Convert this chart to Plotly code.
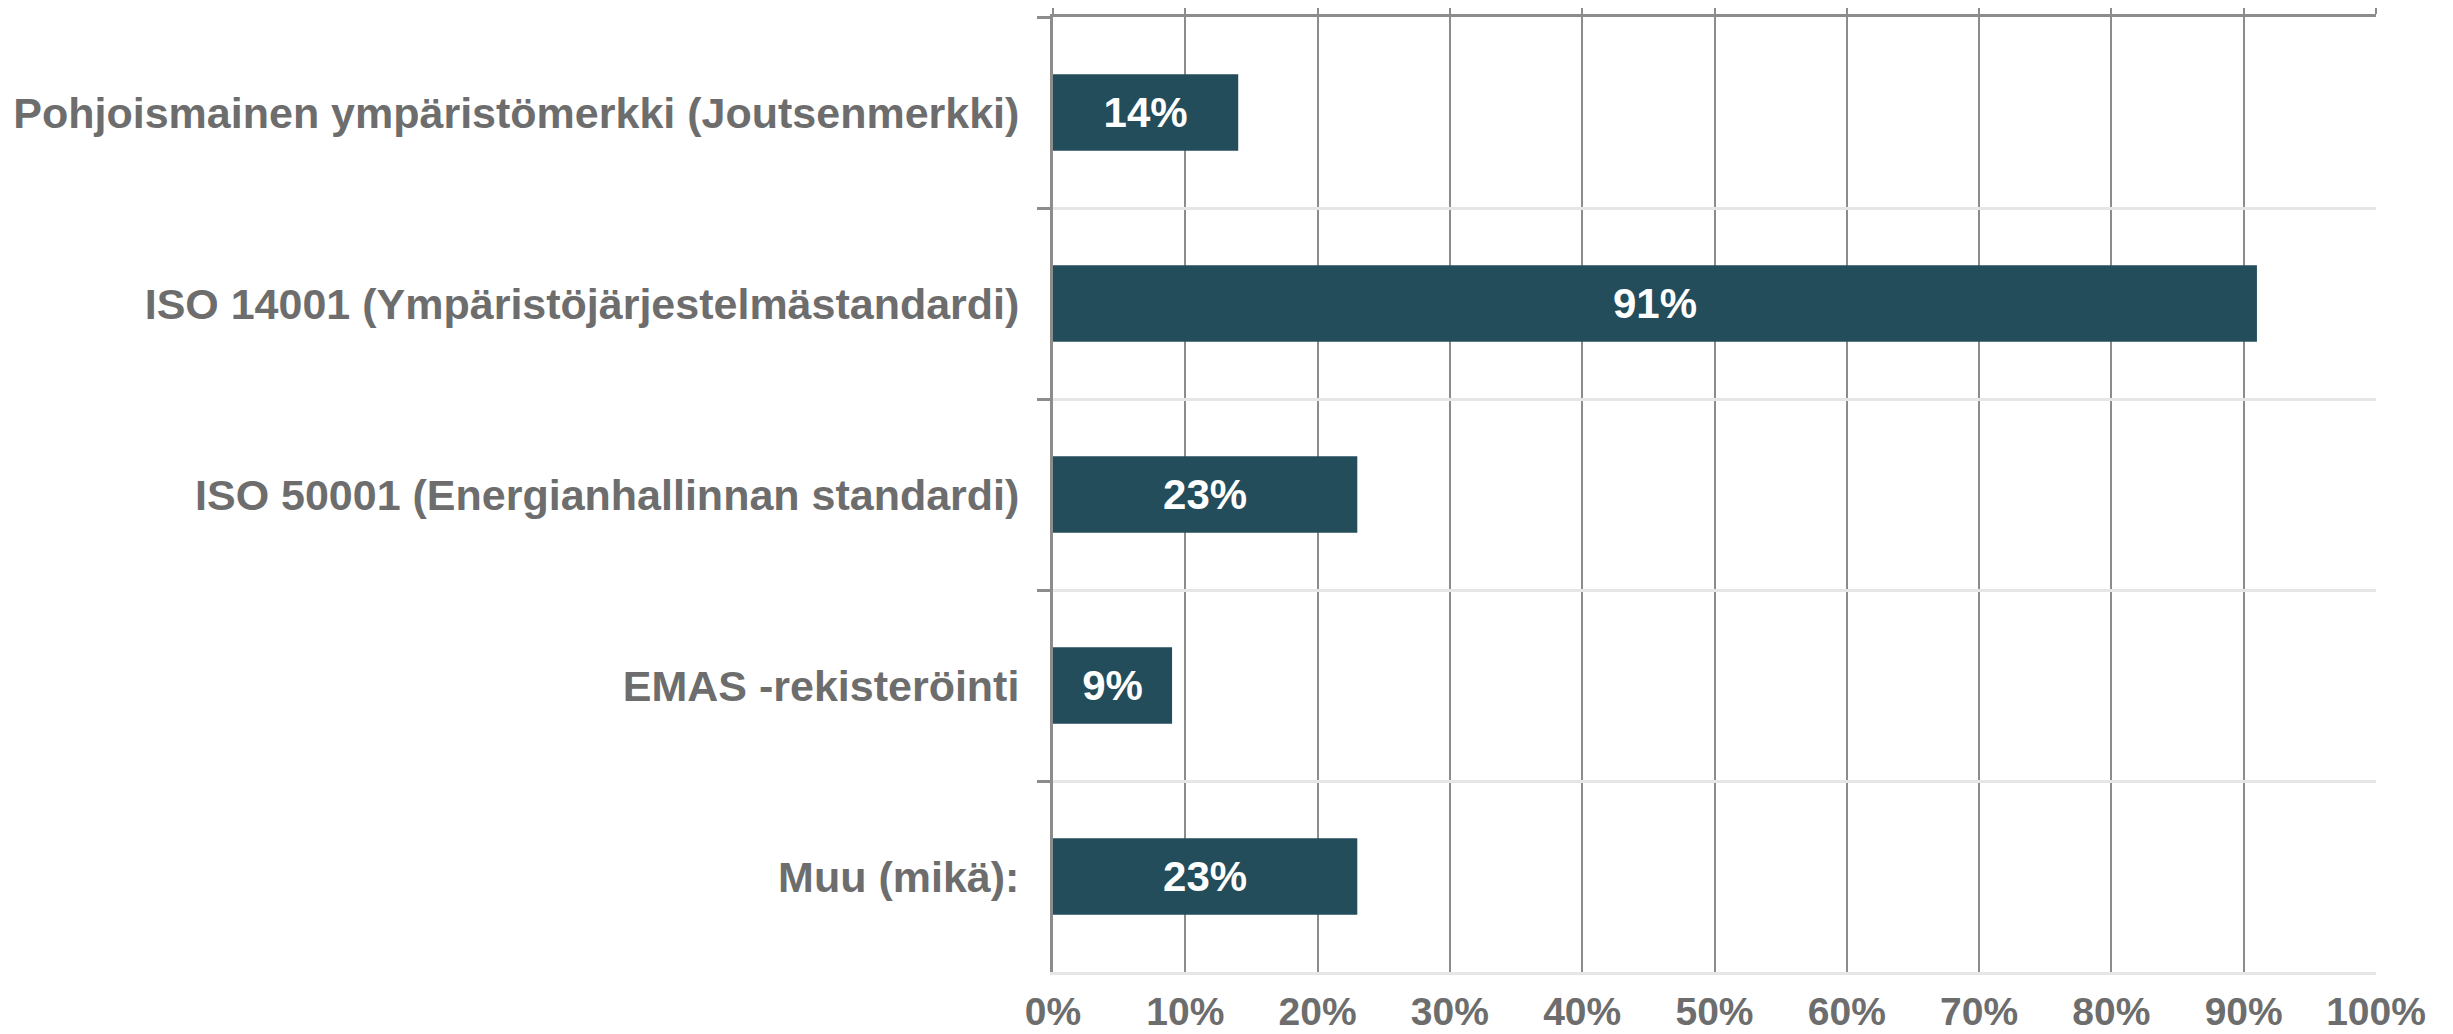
import plotly.graph_objects as go

# certifications / environmental labels, share of respondents (%)
categories = [
    "Pohjoismainen ympäristömerkki (Joutsenmerkki)",
    "ISO 14001 (Ympäristöjärjestelmästandardi)",
    "ISO 50001 (Energianhallinnan standardi)",
    "EMAS -rekisteröinti",
    "Muu (mikä):",
]
shares = [14, 91, 23, 9, 23]
x_ticks = [0, 10, 20, 30, 40, 50, 60, 70, 80, 90, 100]

BAR = "#234d5b"
GRID = "#8c8c8c"
LIGHT = "#e6e6e6"
TEXT = "#6d6d6d"
FONT = "Liberation Sans, Arial, sans-serif"

fig = go.Figure()
fig.add_trace(go.Bar(
    x=shares, y=categories, orientation="h",
    marker=dict(color=BAR, line=dict(width=0)),
    text=[f"{v}%" for v in shares], texttemplate="%{text}",
    textposition="inside", insidetextanchor="middle",
    textfont=dict(color="white", size=42, family=FONT, weight="bold"),
    constraintext="none", showlegend=False, hoverinfo="skip",
))
# dummy trace so the top axis (frame line + gridline stubs) gets drawn
fig.add_trace(go.Scatter(
    x=[shares[0]], y=[categories[0]], xaxis="x2", mode="markers",
    marker=dict(opacity=0), hoverinfo="skip", showlegend=False,
))

# page body has an 8px margin, so margins are shifted by that
fig.update_layout(
    width=2453, height=1034, autosize=False,
    margin=dict(l=1045, r=85, t=9, b=70),
    paper_bgcolor="white", plot_bgcolor="white",
    bargap=0.6,
    font=dict(family=FONT, color=TEXT),
    xaxis=dict(
        range=[0, 100], tickvals=x_ticks, ticktext=[f"{t}%" for t in x_ticks],
        showgrid=True, gridcolor=GRID, gridwidth=2, zeroline=False,
        showline=True, linecolor=LIGHT, linewidth=3,
        ticks="", ticklabelstandoff=3, automargin=False,
        tickfont=dict(size=39, color=TEXT, family=FONT, weight="bold"),
    ),
    xaxis2=dict(
        overlaying="x", side="top", range=[0, 100], tickvals=x_ticks,
        showticklabels=False, showgrid=False, zeroline=False,
        ticks="outside", ticklen=11, tickwidth=2, tickcolor=GRID,
        showline=True, linecolor=GRID, linewidth=3, automargin=False,
    ),
    yaxis=dict(
        type="category", categoryorder="array", categoryarray=categories,
        autorange="reversed", tickson="boundaries",
        ticks="outside", ticklen=13, tickwidth=3, tickcolor=GRID,
        showgrid=True, gridcolor=LIGHT, gridwidth=3, zeroline=False,
        showline=True, linecolor=GRID, linewidth=3,
        ticklabelstandoff=22, automargin=False,
        tickfont=dict(size=43, color=TEXT, family=FONT, weight="bold"),
    ),
)

fig.write_html("out.html")
